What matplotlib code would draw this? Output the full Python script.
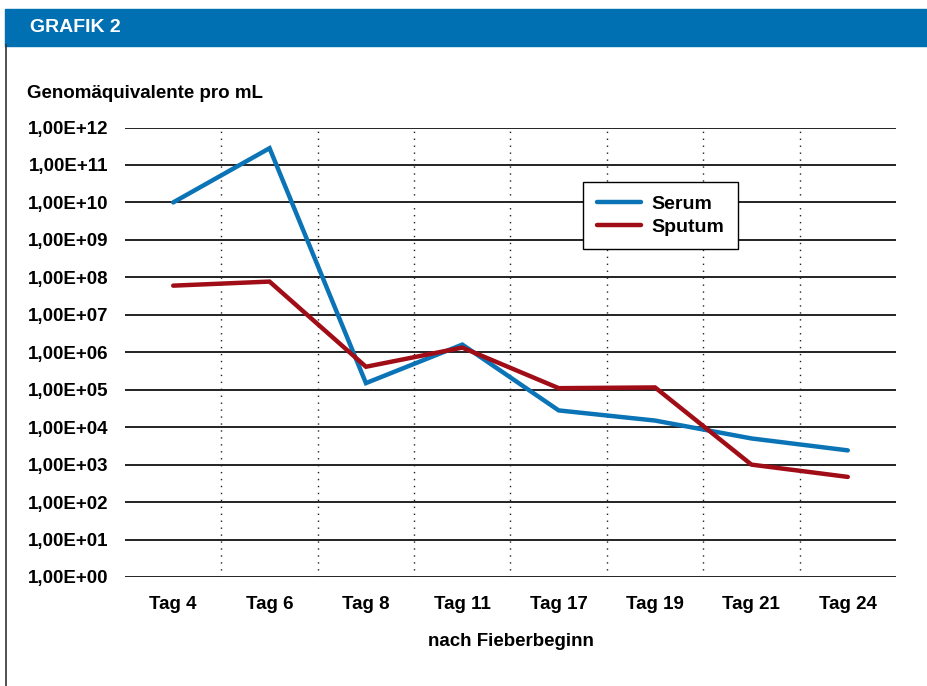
import matplotlib.pyplot as plt
from matplotlib.patches import Rectangle
from matplotlib.lines import Line2D
from matplotlib.ticker import FixedLocator, NullLocator

plt.rcParams['font.family'] = ['Liberation Sans Narrow', 'Liberation Sans', 'DejaVu Sans']
plt.rcParams['font.weight'] = 'bold'

days = ["Tag 4", "Tag 6", "Tag 8", "Tag 11", "Tag 17", "Tag 19", "Tag 21", "Tag 24"]
serum = [1.0e10, 2.8e11, 1.5e5, 1.6e6, 2.8e4, 1.5e4, 5.0e3, 2.4e3]
sputum = [6.0e7, 7.7e7, 4.1e5, 1.33e6, 1.1e5, 1.15e5, 1.0e3, 4.7e2]
exponents = list(range(0, 13))
ytick_labels = [f"1,00E+{e:02d}" for e in exponents]

fig = plt.figure(figsize=(9.28, 6.86), dpi=100)

# header bar + left frame line
fig.patches.append(Rectangle((5 / 928, 1 - 45.5 / 686), 1, 36.5 / 686,
                             transform=fig.transFigure, color="#0070b2", zorder=0))
fig.text(30 / 928, 1 - 28 / 686, "GRAFIK 2", color="white", fontsize=14,
         fontweight="bold", va="center", ha="left")
fig.lines.append(Line2D([6 / 928, 6 / 928], [0, 1 - 45 / 686], transform=fig.transFigure,
                        color="#333333", lw=1.2))

ax = fig.add_axes([125 / 928, 1 - 577 / 686, 771 / 928, 449.5 / 686])
x = range(len(days))
ax.plot(x, serum, color="#0a74b6", lw=3.2, label="Serum", solid_capstyle="round",
        solid_joinstyle="miter")
ax.plot(x, sputum, color="#a00d17", lw=3.2, label="Sputum", solid_capstyle="round",
        solid_joinstyle="miter")

ax.set_yscale("log")
ax.set_ylim(1, 1e12)
ax.set_xlim(-0.5, len(days) - 0.5)
ax.yaxis.set_major_locator(FixedLocator([10.0 ** e for e in exponents]))
ax.yaxis.set_minor_locator(NullLocator())
ax.set_yticklabels(ytick_labels, fontsize=13.5, fontweight="bold")
ax.set_xticks(list(x))
ax.set_xticklabels(days, fontsize=13.5, fontweight="bold")
ax.tick_params(length=0, pad=12)
ax.tick_params(axis="x", pad=14)

for e in exponents:
    ax.axhline(10.0 ** e, color="#111111", lw=1.3, zorder=1)
for b in range(len(days) - 1):
    ax.axvline(b + 0.5, color="#222222", lw=1.0, ls=(0, (1, 4)), zorder=1)

for s in ax.spines.values():
    s.set_visible(False)

ax.set_xlabel("nach Fieberbeginn", fontsize=13.5, fontweight="bold", labelpad=14)
fig.text(27 / 928, 1 - 93 / 686, "Genomäquivalente pro mL", fontsize=13.5,
         fontweight="bold", va="center", ha="left")

leg = ax.legend(loc="upper left", bbox_to_anchor=(583 / 928, 1 - 182 / 686),
                bbox_transform=fig.transFigure, borderaxespad=0, fontsize=14,
                frameon=True, fancybox=False, framealpha=1, edgecolor="black",
                handlelength=2.3, handletextpad=0.5, borderpad=0.7, labelspacing=0.25)
leg.get_frame().set_linewidth(1.0)

fig.savefig("out.png", dpi=100)
